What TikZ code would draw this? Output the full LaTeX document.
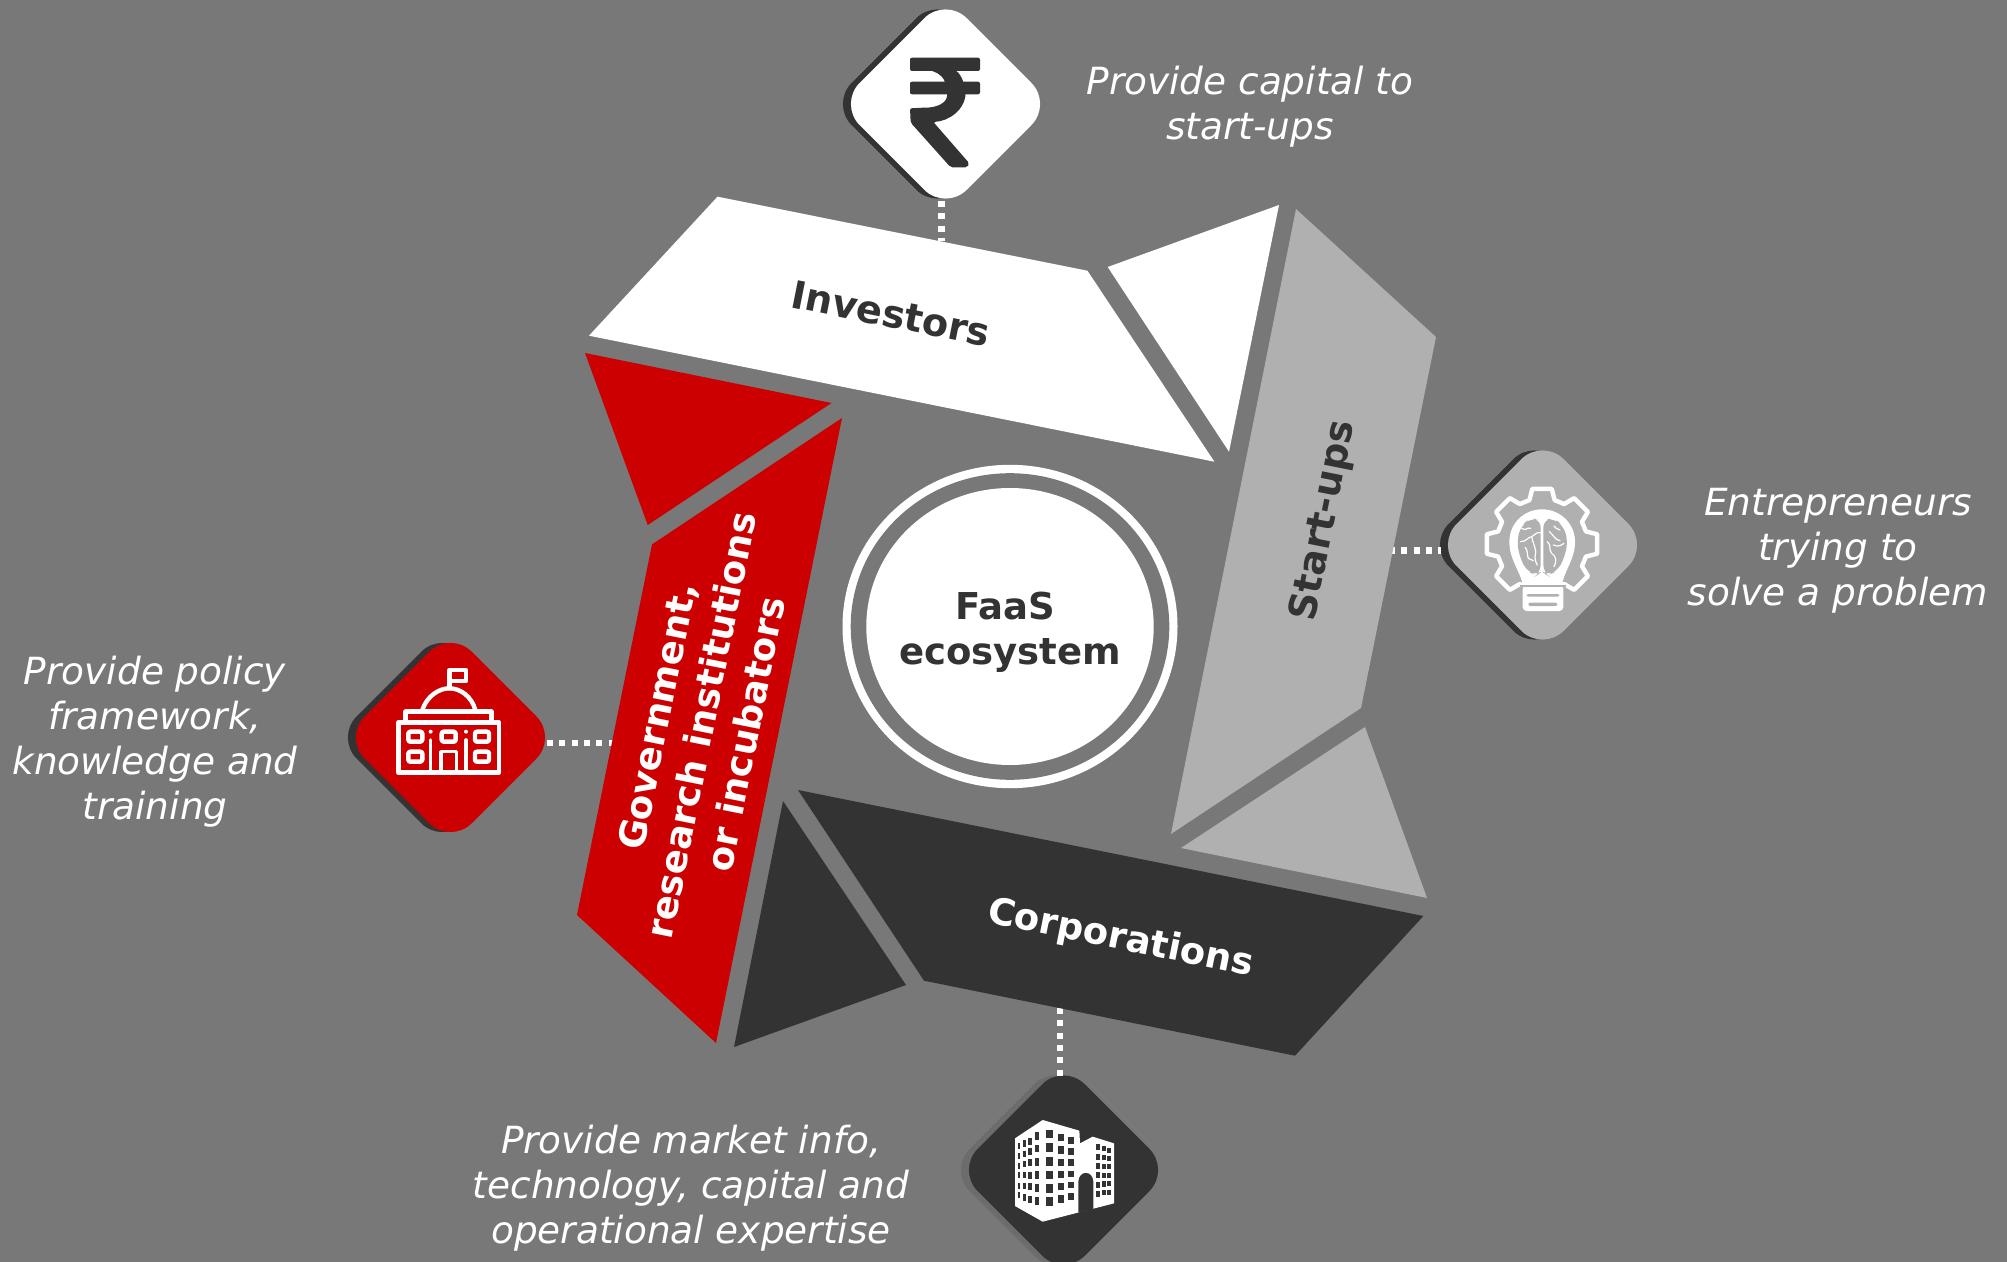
\documentclass[tikz,border=0pt]{standalone}
\usepackage{fontspec}
\setmainfont{DejaVu Sans}
\usetikzlibrary{shapes.geometric}
\definecolor{bgc}{HTML}{787878}
\definecolor{lgc}{HTML}{B0B0B0}
\definecolor{dkc}{HTML}{333333}
\definecolor{rdc}{HTML}{CC0000}
\definecolor{shc}{HTML}{6C6C6C}
\tikzset{
  badge/.style={diamond,aspect=1,minimum width=107pt,minimum height=107pt,inner sep=0pt,outer sep=0pt,rounded corners=15pt,draw=none},
  dotline/.style={draw=white,line width=3.2pt,dash pattern=on 3pt off 3.15pt},
  piece/.style={draw=none},
  lab/.style={inner sep=0pt,align=center,font=\fontsize{18.5pt}{22.6pt}\selectfont\bfseries},
  bigl/.style={inner sep=0pt,align=center,font=\fontsize{19.2pt}{22.6pt}\selectfont\bfseries},
  capt/.style={inner sep=0pt,align=center,text=white,font=\fontsize{18.7pt}{22.5pt}\selectfont\itshape},
  icon/.style={draw=white,line width=2.2pt,line join=round,line cap=round},
  iconthin/.style={draw=white,line width=.6pt,line cap=round},
  zoomed/.style={x=0.16667pt,y=-0.16667pt}
}
\begin{document}
\begin{tikzpicture}[x=0.5pt,y=-0.5pt]
\useasboundingbox (0,0) rectangle (2007,1262);
\clip (0,0) rectangle (2007,1262);
\fill[bgc] (0,0) rectangle (2007,1262);

% badges
\node[badge,fill=dkc] (rupeeS) at (937.5,104) {};
\node[badge,fill=white] (rupee) at (945.5,104) {};
\node[badge,fill=dkc] (brainS) at (1534.5,545) {};
\node[badge,fill=lgc] (brain) at (1542.5,545) {};
\node[badge,fill=dkc] (govS) at (442.5,737.5) {};
\node[badge,fill=rdc] (gov) at (450.5,737.5) {};
\node[badge,fill=shc] (corpS) at (1055.5,1170) {};
\node[badge,fill=dkc] (corp) at (1063.5,1170) {};

% connector ends on the pieces
\coordinate (invEdge) at (941.5,241);
\coordinate (startEdge) at (1389,550.5);
\coordinate (govEdge) at (614,743);
\coordinate (corpEdge) at (1059.7,1008);
\draw[dotline,shorten <=-5pt] (invEdge |- rupee.south) -- (invEdge);
\draw[dotline,shorten >=-6.75pt] (startEdge) -- (startEdge -| brainS.west);
\draw[dotline,shorten <=-5.25pt] (gov.east |- govEdge) -- (govEdge);
\draw[dotline,shorten >=-6.5pt] (corpEdge) -- (corpEdge |- corp.north);

% pieces
\fill[piece,white] (717.5,196.7) -- (1087.4,270.7) -- (1214.4,461.7) -- (589,335.7) -- cycle;
\fill[piece,white] (1107.7,267) -- (1279,205) -- (1229,451.7) -- cycle;
\fill[piece,lgc] (1296,209) -- (1436,337) -- (1361,708) -- (1171,834) -- cycle;
\fill[piece,lgc] (1365,727) -- (1427,898) -- (1181,848) -- cycle;
\fill[piece,dkc] (798,790) -- (1423.4,916) -- (1295,1055.7) -- (924,980.7) -- cycle;
\fill[piece,dkc] (783,801) -- (906,985) -- (734,1047) -- cycle;
\fill[piece,rdc] (842,418) -- (716,1043) -- (577,915) -- (652,544.4) -- cycle;
\fill[piece,rdc] (585,353) -- (831.5,403) -- (647.7,525) -- cycle;

% centre
\node[ellipse,fill=white,minimum width=335pt/2,minimum height=323.4pt/2,inner sep=0pt,outer sep=0pt] (ringO) at (1010,626.5) {};
\node[ellipse,fill=bgc,minimum width=318.6pt/2,minimum height=306.6pt/2,inner sep=0pt,outer sep=0pt] (ringM) at (1010,626.5) {};
\node[ellipse,fill=white,minimum width=287.4pt/2,minimum height=277pt/2,inner sep=0pt,outer sep=0pt] (ringI) at (1010,626.5) {};
\node[lab,text=dkc] (faas) at (1010,632) {FaaS\hspace*{5pt}\\ecosystem};

% labels
\node[bigl,text=dkc,rotate=-11.3] (linv) at (891,313.5) {Investors};
\node[bigl,text=dkc,rotate=78.7] (lstart) at (1324,521) {Start-ups};
\node[lab,text=white,rotate=-11.3] (lcorp) at (1120.5,939) {Corporations};
\node[lab,text=white,rotate=78.7] (lgov) at (701,725) {Government,\\research institutions\\or incubators};

% captions
\node[capt] (c1) at (1250,107) {Provide capital to\\start-ups};
\node[capt] (c2) at (1838,551) {Entrepreneurs\\trying to\\solve a problem};
\node[capt] (c3) at (155,742) {Provide policy\\framework,\\knowledge and\\training};
\node[capt] (c4) at (691,1188) {Provide market info,\\technology, capital and\\operational expertise};

% rupee icon
\begin{scope}[shift={(820,0)},zoomed]
\fill[dkc,rounded corners=1pt] (270,173) rectangle (480,213);
\fill[dkc,rounded corners=1pt] (270,245) rectangle (480,283);
\fill[dkc,rounded corners=1pt] (405,210) .. controls (425,225) and (435,255) .. (437,283)
  .. controls (430,330) and (390,362) .. (340,366) -- (448,490) -- (442,502) -- (392,502)
  -- (272,368) -- (270,325) -- (310,323) .. controls (350,323) and (378,310) .. (382,283)
  -- (375,245) .. controls (365,225) and (345,213) .. (320,210) -- cycle;
\end{scope}

% brain / gear icon
\begin{scope}[shift={(1420,430)},zoomed]
\begin{scope}[shift={(366,342)}]
\draw[icon] (116:137) foreach \a in {135,180,225,270,315,360,405} { -- (\a-16:137) -- (\a-10:168) -- (\a+10:168) -- (\a+16:137) } -- (64:137);
\end{scope}
\fill[white] (310,470) .. controls (300,420) and (268,390) .. (268,335) .. controls (268,280) and (312,238) .. (366,238)
  .. controls (420,238) and (465,280) .. (465,335) .. controls (465,390) and (432,420) .. (425,470) -- cycle;
\fill[lgc,rounded corners=4pt] (362,268) -- (330,266) -- (305,285) -- (290,330) -- (300,385) -- (322,425) -- (350,436) -- (362,428) -- cycle;
\fill[lgc,rounded corners=4pt] (370,268) -- (402,266) -- (428,285) -- (444,330) -- (433,385) -- (410,425) -- (382,436) -- (370,428) -- cycle;
\draw[iconthin] (305,295) .. controls (320,305) and (320,290) .. (332,295);
\draw[iconthin] (302,335) .. controls (320,335) and (325,320) .. (335,320) .. controls (345,315) and (350,305) .. (362,308);
\draw[iconthin] (335,320) .. controls (340,345) and (352,360) .. (345,380) .. controls (345,395) and (350,400) .. (352,405);
\draw[iconthin] (315,352) .. controls (325,360) and (320,375) .. (325,385) .. controls (330,392) and (335,385) .. (340,392);
\draw[iconthin] (388,305) .. controls (400,315) and (405,330) .. (420,332);
\draw[iconthin] (382,335) .. controls (395,345) and (385,360) .. (395,370) .. controls (410,380) and (410,395) .. (402,410);
\draw[iconthin] (420,300) .. controls (410,300) and (405,290) .. (402,288);
\draw[iconthin] (400,345) .. controls (415,352) and (425,345) .. (432,340);
\draw[white,line width=.7pt] (366,272) -- (366,432);
\fill[white,rounded corners=2pt] (308,465) rectangle (430,543);
\fill[lgc] (300,466) rectangle (438,471);
\fill[lgc,rounded corners=1pt] (320,492) rectangle (418,500);
\fill[lgc,rounded corners=1pt] (325,518) rectangle (412,528);
\end{scope}

% government icon
\begin{scope}[shift={(340,630)},zoomed]
\draw[icon] (328,175) -- (328,120) -- (378,120) -- (378,153) -- (328,153);
\draw[icon] (247,240) .. controls (260,200) and (295,175) .. (328,175) .. controls (362,175) and (395,200) .. (406,240);
\draw[icon] (197,275) -- (197,245) -- (454,245) -- (454,275);
\draw[icon] (175,278) rectangle (477,428);
\foreach \u/\v in {205/305,305/305,405/305,205/365,405/365}{
  \draw[icon,rounded corners=1pt] (\u,\v) rectangle ++(42,30);
}
\draw[icon,line width=1.8pt] (272,330) -- (272,422);
\draw[icon,line width=1.8pt] (378,330) -- (378,422);
\fill[white] (272,305) circle (6);
\fill[white] (378,305) circle (6);
\draw[icon,line width=1.8pt] (303,422) -- (303,365) -- (350,365) -- (350,422);
\end{scope}

% corporate building icon
\begin{scope}[shift={(950,1060)},zoomed]
\fill[white] (195,235) -- (278,180) -- (388,212) -- (390,250) -- (428,230) -- (492,250) -- (492,430) -- (278,485) -- (195,438) -- cycle;
\fill[dkc] (385,458) -- (385,365) .. controls (387,330) and (428,330) .. (430,365) -- (430,448) -- cycle;
\foreach \u/\w/\h/\rows in {
  207/8/18/{258,288,318,345,377,405},
  222/9/20/{250,282,312,345,378,412},
  240/10/21/{243,275,308,345,380,417},
  262/12/23/{228,265,305,345,384,423},
  299/22/26/{222,263,304,345,385,424},
  333/20/22/{233,270,307,343,380,417},
  363/17/20/{241,275,308,342,375,410},
  444/13/18/{262,290,318,345,375,403},
  462/12/16/{266,293,320,346,372,398},
  477/10/15/{270,296,320,346,370,396}}{
  \foreach \v in \rows {
    \fill[dkc] (\u-\w/2,\v-\h/2) rectangle (\u+\w/2,\v+\h/2);
  }
}
\end{scope}
\end{tikzpicture}
\end{document}
